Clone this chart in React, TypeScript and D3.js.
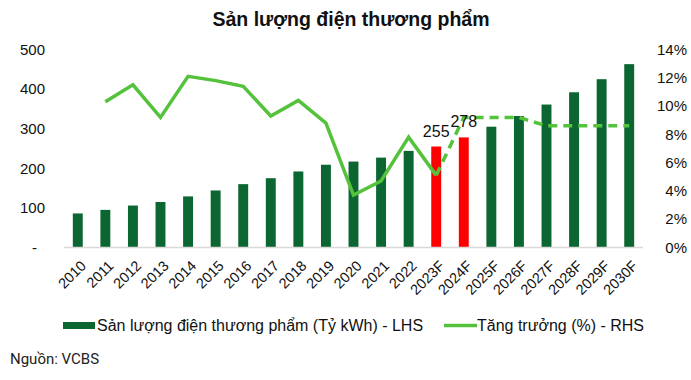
import React from "react";
import * as d3 from "d3";

const categories = ["2010","2011","2012","2013","2014","2015","2016","2017","2018","2019","2020","2021","2022","2023F","2024F","2025F","2026F","2027F","2028F","2029F","2030F"];
const output = [86, 95, 106, 115, 129, 144, 160, 175, 192, 209, 217, 227, 244, 255, 278, 305, 332, 361, 392, 425, 463];
const growth: (number | null)[] = [null, 10.3, 11.5, 9.2, 12.1, 11.8, 11.4, 9.3, 10.4, 8.8, 3.7, 4.7, 7.8, 5.1, 9.2, 9.2, 9.2, 8.6, 8.6, 8.6, 8.6];
const highlighted = ["2023F", "2024F"];
const leftTicks = [0, 100, 200, 300, 400, 500];
const rightTicks = [0, 2, 4, 6, 8, 10, 12, 14];
const solidUntil = "2023F";

const W = 691, H = 380;
const X0 = 64, X1 = 643, YB = 247.5, YT = 49.5;
const DARK = "#0b6631", RED = "#ff0000", LINE = "#55c23c";
const FONT = "'Liberation Sans', Arial, sans-serif";

export default function App() {
  const x = d3.scaleBand<string>().domain(categories).range([X0, X1]).paddingInner(0.64).paddingOuter(0.32);
  const yL = d3.scaleLinear().domain([0, 500]).range([YB, YT]);
  const yR = d3.scaleLinear().domain([0, 14]).range([YB, YT]);
  const cx = (c: string) => (x(c) as number) + x.bandwidth() / 2;

  const pts = categories.map((c, i) => ({ c, i, v: growth[i] })).filter(p => p.v !== null) as { c: string; i: number; v: number }[];
  const splitIdx = categories.indexOf(solidUntil);
  const line = d3.line<{ c: string; v: number }>().x(p => cx(p.c)).y(p => yR(p.v));
  const solidPts = pts.filter(p => p.i <= splitIdx);
  const dashPts = pts.filter(p => p.i >= splitIdx);

  return (
    <svg width={W} height={H} style={{ position: "absolute", left: 0, top: 0 }} fontFamily={FONT}>
      <rect width={W} height={H} fill="#fff" />
      <text x={351} y={26} textAnchor="middle" fontSize={19.5} fontWeight="bold" fill="#111">Sản lượng điện thương phẩm</text>

      {output.map((v, i) => (
        <rect key={categories[i]} x={x(categories[i])} y={yL(v)} width={x.bandwidth()} height={YB - yL(v)}
          fill={highlighted.includes(categories[i]) ? RED : DARK} />
      ))}
      <line x1={X0} x2={X1} y1={YB} y2={YB} stroke="#d9d9d9" strokeWidth={1.5} />

      {leftTicks.map(t => (
        <text key={t} x={t === 0 ? 37 : 45} y={yL(t)} dy="0.35em" textAnchor="end" fontSize={15} fill="#111">{t === 0 ? "-" : String(t)}</text>
      ))}
      {rightTicks.map(t => (
        <text key={t} x={687} y={yR(t)} dy="0.35em" textAnchor="end" fontSize={15} fill="#111">{t + "%"}</text>
      ))}

      {categories.map(c => (
        <text key={c} transform={`translate(${cx(c) + 2},${YB + 12}) rotate(-45)`} dy="0.7em" textAnchor="end" fontSize={14.5} fill="#111">{c}</text>
      ))}

      <path d={line(solidPts) || ""} fill="none" stroke={LINE} strokeWidth={3.5} strokeLinejoin="miter" />
      <path d={line(dashPts) || ""} fill="none" stroke={LINE} strokeWidth={3.5} strokeDasharray="9,6" />

      {highlighted.map(c => {
        const i = categories.indexOf(c);
        return <text key={c} x={cx(c)} y={yL(output[i]) - 10} textAnchor="middle" fontSize={16} fill="#111">{output[i]}</text>;
      })}

      <rect x={63} y={322} width={32} height={7} fill={DARK} />
      <text x={97} y={331} fontSize={16} fill="#111">Sản lượng điện thương phẩm (Tỷ kWh) - LHS</text>
      <line x1={444} x2={477} y1={325.5} y2={325.5} stroke={LINE} strokeWidth={3.5} />
      <text x={477} y={331} fontSize={16} fill="#111">Tăng trưởng (%) - RHS</text>

      <text x={10} y={363.5} fontSize={15} fontFamily="Roboto, sans-serif" fill="#222">Nguồn: VCBS</text>
    </svg>
  );
}
